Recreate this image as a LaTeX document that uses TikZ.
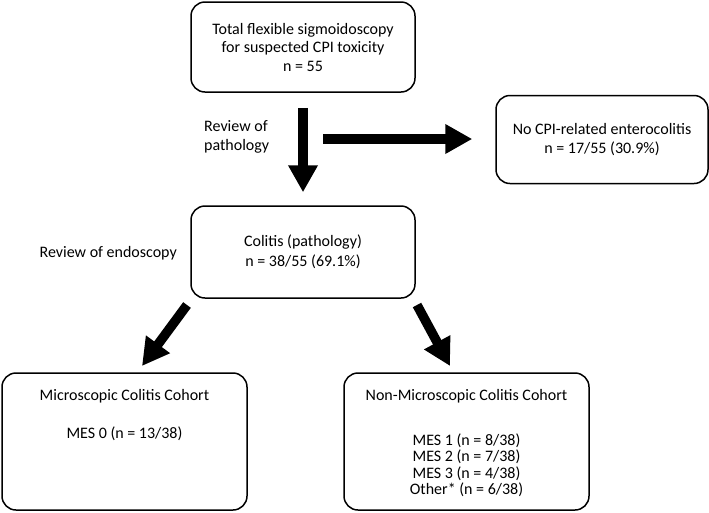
\documentclass[tikz,border=0pt]{standalone}
\usepackage{fontspec}
\setmainfont{Carlito}
\usetikzlibrary{arrows.meta,positioning}
\tikzset{
	box/.style={draw, line width=1.5pt, rounded corners=14pt, align=center, inner sep=0pt},
	boxtext/.style={anchor=north, align=center, inner sep=0pt},
	bigarrow/.style={line width=9.5pt, -{Triangle[width=28pt,length=27pt]}},
}
\begin{document}
\begin{tikzpicture}[x=1pt,y=-1pt,font=\fontsize{16}{19.5}\selectfont]
				\useasboundingbox (0,0) rectangle (709,512);
				% boxes
				\node[box, minimum width=224pt, minimum height=90pt] (total) at (303,47) {Total flexible sigmoidoscopy\\[-1pt]for suspected CPI toxicity\\[-1pt]n = 55};
				\node[box, minimum width=212pt, minimum height=88pt] (nocpi) at (602,139.5) {No CPI-related enterocolitis\\[-1pt]n = 17/55 (30.9\%)};
				\node[box, minimum width=224pt, minimum height=92pt] (colitis) at (303,252) {Colitis (pathology)\\n = 38/55 (69.1\%)};
				\node[box, minimum width=245pt, minimum height=137pt] (micro) at (124.5,441.5) {};
				\node[box, minimum width=245pt, minimum height=137pt] (nonmicro) at (466.5,441.5) {};
				\node[boxtext] (microtxt) at ([yshift=-17pt]micro.north) {Microscopic Colitis Cohort\\[18pt]MES 0 (n = 13/38)};
				\node[boxtext] (nonmicrotxt) at ([yshift=-17pt]nonmicro.north) {Non-Microscopic Colitis Cohort\\[25pt]MES 1 (n = 8/38)\\[-3pt]MES 2 (n = 7/38)\\[-3pt]MES 3 (n = 4/38)\\[-3pt]Other* (n = 6/38)};
				% labels
				\node[anchor=west, align=left, inner sep=0pt] (revpath) at (204,137) {Review of\\pathology};
				\node[anchor=east, inner sep=0pt] (revendo) at (177,253) {Review of endoscopy};
				% arrows
				\coordinate (split) at (323,139);
				\coordinate (lstart) at (187,305);
				\coordinate (lend) at (142,366);
				\coordinate (rstart) at (417,305);
				\coordinate (rend) at (450,366);
				\draw[bigarrow, shorten <=15pt, shorten >=13pt] (total) -- (colitis);
				\draw[bigarrow, shorten >=23pt] (split) -- (split -| nocpi.west);
				\draw[bigarrow] (lstart) -- (lend);
				\draw[bigarrow] (rstart) -- (rend);
\end{tikzpicture}
\end{document}
